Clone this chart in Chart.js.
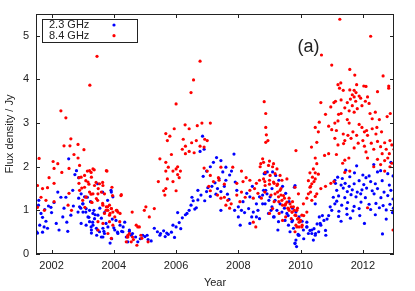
<!DOCTYPE html>
<html>
<head>
<meta charset="utf-8">
<script src="https://cdn.jsdelivr.net/npm/chart.js@4/dist/chart.umd.min.js"></script>
<style>
  body { margin: 0; background: #fff; }
  #wrap { width: 415px; height: 291px; }
</style>
</head>
<body>
<div id="wrap"><canvas id="fluxChart" width="415" height="291"></canvas></div>
<script>
// series names
const seriesNames = ["2.3 GHz", "8.4 GHz"];
const panelLabel = "(a)";

// axis ticks
const xTicks = [2002, 2004, 2006, 2008, 2010, 2012];
const yTicks = [0, 1, 2, 3, 4, 5];

// 2.3 GHz flux density [year, Jy]
const obs23 = [
  [2001.52,0.51],[2001.55,0.48],[2001.58,1.12],[2001.59,1.23],[2001.62,0.66],[2001.66,0.93],[2001.71,0.84],
  [2001.71,0.50],[2001.76,0.62],[2001.78,1.02],[2001.82,0.75],[2001.87,0.59],[2001.9,1.10],[2001.98,1.07],
  [2002.0,0.95],[2002.08,1.18],[2002.15,0.70],[2002.2,1.42],[2002.24,0.55],[2002.3,1.30],[2002.36,0.85],
  [2002.4,1.05],[2002.46,1.30],[2002.49,0.73],[2002.52,0.52],[2002.55,2.18],[2002.62,0.89],[2002.68,1.46],
  [2002.7,1.10],[2002.75,1.82],[2002.8,1.91],[2002.87,1.75],[2002.87,1.28],[2002.94,1.05],[2003.0,1.15],
  [2003.1,0.96],[2003.15,1.30],[2003.2,0.84],[2003.25,1.20],[2003.27,0.62],[2003.28,0.48],[2003.32,0.73],
  [2003.36,1.00],[2003.4,0.90],[2003.45,0.43],[2003.48,1.61],[2003.48,0.55],[2003.55,1.05],[2003.6,0.82],
  [2003.64,1.42],[2003.65,0.39],[2003.68,0.52],[2003.7,0.95],[2003.75,0.70],[2003.8,1.23],[2003.81,0.62],
  [2003.88,0.25],[2003.91,1.46],[2003.93,0.35],[2003.95,0.80],[2004.0,0.60],[2004.07,0.77],[2004.12,0.50],
  [2004.2,0.66],[2004.25,0.52],[2004.3,0.62],[2004.35,0.73],[2004.4,0.39],[2004.5,0.52],[2004.6,0.47],
  [2004.7,0.39],[2004.77,0.28],[2004.85,0.35],[2004.93,0.43],[2005.0,0.40],[2005.07,0.43],[2005.1,0.33],
  [2005.2,0.30],[2005.3,0.59],[2005.4,0.51],[2005.48,0.43],[2005.5,0.47],[2005.6,0.53],[2005.65,0.40],
  [2005.7,0.48],[2005.75,0.45],[2005.85,0.50],[2005.9,0.66],[2005.95,0.38],[2006.0,0.62],[2006.05,0.95],
  [2006.1,0.72],[2006.15,0.58],[2006.2,0.83],[2006.3,0.90],[2006.35,0.93],[2006.42,1.00],[2006.48,1.12],
  [2006.51,1.30],[2006.55,1.22],[2006.6,1.03],[2006.65,1.06],[2006.7,1.24],[2006.7,1.46],[2006.77,2.35],
  [2006.8,1.35],[2006.85,2.70],[2006.87,1.78],[2006.9,2.40],[2006.92,1.22],[2006.98,1.43],[2006.98,1.90],
  [2007.02,1.52],[2007.1,1.32],[2007.1,2.00],[2007.15,1.55],[2007.2,2.10],[2007.25,1.63],[2007.28,1.37],
  [2007.3,2.21],[2007.33,1.50],[2007.38,1.73],[2007.44,2.14],[2007.44,1.43],[2007.44,1.00],[2007.5,1.88],
  [2007.6,1.99],[2007.6,1.69],[2007.65,1.37],[2007.72,1.81],[2007.78,1.90],[2007.86,2.29],[2007.88,1.00],
  [2007.95,1.46],[2008.0,1.08],[2008.0,0.85],[2008.06,0.66],[2008.1,1.00],[2008.27,1.39],[2008.33,1.04],
  [2008.37,1.31],[2008.37,0.70],[2008.43,0.85],[2008.48,0.96],[2008.58,0.85],[2008.58,1.15],[2008.63,1.00],
  [2008.68,1.31],[2008.68,0.81],[2008.78,1.35],[2008.78,1.15],[2008.83,1.84],[2008.88,1.46],[2008.93,1.88],
  [2008.98,1.23],[2009.05,1.00],[2009.1,1.88],[2009.15,0.85],[2009.2,1.80],[2009.27,0.55],[2009.3,1.69],
  [2009.42,1.55],[2009.48,1.05],[2009.52,1.39],[2009.6,0.88],[2009.63,1.20],[2009.74,1.05],[2009.74,0.77],
  [2009.8,1.53],[2009.82,0.25],[2009.85,0.96],[2009.85,0.32],[2009.87,0.17],[2009.92,0.45],[2009.95,0.85],
  [2009.95,0.43],[2010.05,0.75],[2010.1,0.35],[2010.2,0.62],[2010.2,0.73],[2010.3,0.54],[2010.36,0.47],
  [2010.43,0.58],[2010.48,0.47],[2010.53,0.69],[2010.6,0.85],[2010.65,0.66],[2010.7,0.88],[2010.75,0.77],
  [2010.8,0.54],[2010.81,0.43],[2010.85,0.80],[2010.9,0.88],[2010.95,1.08],[2011.0,1.00],[2011.05,1.30],
  [2011.1,1.15],[2011.1,1.69],[2011.12,1.62],[2011.16,1.46],[2011.16,1.21],[2011.19,1.76],[2011.22,1.33],
  [2011.23,0.98],[2011.22,0.86],[2011.3,1.58],[2011.32,1.12],[2011.34,1.73],[2011.37,1.51],[2011.42,1.29],
  [2011.43,1.62],[2011.45,1.92],[2011.48,1.04],[2011.49,0.91],[2011.5,1.43],[2011.51,1.18],[2011.56,1.55],
  [2011.58,1.77],[2011.62,1.36],[2011.66,1.47],[2011.68,0.99],[2011.72,1.61],[2011.72,1.09],[2011.73,1.86],
  [2011.78,1.31],[2011.8,2.02],[2011.82,1.42],[2011.88,1.68],[2011.88,1.04],[2011.93,1.38],[2011.94,1.19],
  [2011.97,1.47],[2012.0,1.81],[2012.03,1.59],[2012.08,1.29],[2012.1,1.75],[2012.12,1.51],[2012.2,1.79],
  [2012.2,1.14],[2012.25,1.66],[2012.25,1.02],[2012.3,1.45],[2012.35,2.05],[2012.36,1.38],[2012.4,1.61],
  [2012.42,1.16],[2012.47,1.88],[2012.47,1.50],[2012.53,1.06],[2012.57,1.91],[2012.58,1.29],[2012.62,1.68],
  [2012.63,0.46],[2012.65,1.11],[2012.68,1.42],[2012.75,1.01],[2012.8,1.84],[2012.8,1.34],[2012.85,1.58],
  [2012.87,1.14],[2012.9,1.46],[2012.9,2.10],[2012.97,1.79],[2012.97,1.26],[2012.98,1.05],
  // dense clusters 2003-2004 and 2009-2010
  [2003.01,1.15],[2002.9,1.08],[2003.11,1.04],[2002.85,0.96],[2003.01,0.96],[2003.22,1.00],[2003.33,0.93],
  [2003.49,0.89],[2003.17,0.85],[2003.38,0.81],[2003.22,0.74],[2002.95,0.70],[2003.11,0.66],[2003.33,0.66],
  [2003.44,0.59],[2003.28,0.55],[2003.54,0.51],[2003.65,0.59],[2003.7,0.47],[2003.6,0.39],[2004.03,0.55],
  [2004.13,0.47],[2004.29,0.51],[2004.5,0.55],[2004.56,0.43],[2004.45,0.28],[2002.95,1.38],[2003.06,1.31],
  [2003.92,1.42],[2003.97,1.31],
  [2008.86,1.84],[2008.81,1.46],[2008.92,1.38],[2009.08,1.50],[2009.02,1.31],[2009.18,1.23],[2008.86,1.15],
  [2009.08,1.08],[2009.34,1.15],[2009.24,1.00],[2009.4,0.96],[2008.97,0.93],[2009.13,0.85],[2009.56,0.93],
  [2009.29,0.74],[2009.5,0.77],[2009.61,0.66],[2009.72,0.74],[2009.77,0.59],[2009.66,0.51],[2009.82,1.57],
  [2009.93,0.43],[2010.09,0.55],[2010.2,0.62],[2010.25,0.47],[2010.36,0.55],[2010.47,0.43],[2010.58,0.51],
  [2010.41,0.32],[2009.82,0.24],[2010.63,0.70],[2010.47,1.15],
  [2011.3,0.75],[2011.6,0.82],[2011.9,0.88],[2012.05,0.70],[2012.4,0.90],[2012.75,0.80],[2012.95,0.95],
  [2007.55,1.55],[2007.7,1.25],[2007.9,1.65],[2008.15,1.20],[2008.45,1.55],[2008.2,0.95]
];

// 8.4 GHz flux density [year, Jy]
const obs84 = [
  [2001.55,1.57],[2001.55,1.07],[2001.6,2.19],[2001.66,1.30],[2001.71,1.50],[2001.77,1.00],[2001.82,1.23],
  [2001.87,1.52],[2001.92,1.75],[2002.05,2.12],[2002.08,1.62],[2002.08,1.96],[2002.08,1.20],[2002.2,2.07],
  [2002.3,3.28],[2002.33,1.87],[2002.4,2.48],[2002.46,3.12],[2002.53,1.12],[2002.56,1.39],[2002.56,1.96],
  [2002.59,2.48],[2002.62,2.64],[2002.64,1.00],[2002.72,2.28],[2002.85,2.51],[2002.85,2.20],[2002.88,1.75],
  [2002.88,1.62],[2002.97,1.51],[2003.0,1.23],[2003.04,2.39],[2003.07,1.07],[2003.1,1.68],[2003.1,1.30],
  [2003.15,1.90],[2003.2,1.60],[2003.23,3.87],[2003.27,1.87],[2003.27,1.37],[2003.3,1.18],[2003.37,1.93],
  [2003.46,4.53],[2003.43,1.64],[2003.48,1.23],[2003.5,1.50],[2003.64,1.64],[2003.64,1.16],[2003.75,1.00],
  [2003.78,1.90],[2003.8,1.08],[2003.88,0.93],[2003.92,1.04],[2003.94,1.53],[2003.96,1.34],[2004.1,1.00],
  [2004.2,0.93],[2004.23,1.34],[2004.43,0.39],[2004.45,0.43],[2004.5,0.47],[2004.6,0.39],[2004.63,0.33],
  [2004.59,0.96],[2004.72,0.66],[2004.74,0.20],[2004.77,0.62],[2004.82,0.62],[2004.87,0.43],[2004.9,0.36],
  [2004.98,1.00],[2005.03,1.08],[2005.1,0.28],[2005.14,0.85],[2005.3,1.04],[2005.43,1.66],[2005.48,2.18],
  [2005.6,1.45],[2005.64,1.35],[2005.67,2.76],[2005.67,2.10],[2005.67,1.90],[2005.67,1.50],[2005.72,2.60],
  [2005.72,1.72],[2005.75,1.99],[2005.8,2.70],[2005.85,2.28],[2005.9,1.90],[2005.9,1.66],[2005.94,2.87],
  [2006.0,3.44],[2006.0,1.95],[2006.0,1.45],[2006.05,2.00],[2006.05,1.82],[2006.1,1.75],[2006.14,1.90],
  [2006.2,2.40],[2006.23,2.63],[2006.29,2.96],[2006.3,2.47],[2006.3,2.30],[2006.42,2.87],[2006.42,2.35],
  [2006.48,3.70],[2006.5,2.55],[2006.56,3.99],[2006.58,2.32],[2006.65,2.60],[2006.68,2.94],[2006.77,4.42],
  [2006.77,2.47],[2006.83,3.00],[2006.9,2.45],[2006.9,1.97],[2006.92,2.63],[2007.0,2.60],[2007.0,1.90],
  [2007.05,1.55],[2007.1,3.00],[2007.1,1.80],[2007.1,1.45],[2007.2,1.66],[2007.33,1.35],[2007.36,1.75],
  [2007.38,1.69],[2007.44,1.99],[2007.44,1.28],[2007.55,1.60],[2007.55,1.30],[2007.6,1.12],[2007.66,1.23],
  [2007.72,1.05],[2007.77,1.15],[2007.82,1.99],[2007.95,1.62],[2007.95,1.35],[2008.05,1.20],[2008.1,1.90],
  [2008.1,1.42],[2008.15,1.66],[2008.22,1.30],[2008.25,1.75],[2008.37,1.69],[2008.37,1.46],[2008.48,1.28],
  [2008.48,0.73],[2008.52,1.50],[2008.56,0.62],[2008.58,1.62],[2008.63,1.39],[2008.68,1.69],[2008.7,2.00],
  [2008.72,2.07],[2008.74,1.28],[2008.78,2.18],[2008.83,3.49],[2008.85,1.66],[2008.85,1.42],[2008.88,3.22],
  [2008.88,2.90],[2008.88,2.56],[2008.9,2.73],[2008.95,2.60],[2009.0,2.13],[2009.0,1.60],[2009.0,0.93],
  [2009.05,1.35],[2009.1,2.00],[2009.1,1.04],[2009.15,1.62],[2009.15,1.20],[2009.26,1.60],[2009.26,1.42],
  [2009.3,1.20],[2009.31,0.93],[2009.37,1.50],[2009.37,1.35],[2009.42,1.12],[2009.42,0.77],[2009.48,1.28],
  [2009.52,1.15],[2009.52,0.85],[2009.59,1.05],[2009.63,1.28],[2009.63,1.00],[2009.7,1.08],[2009.7,0.81],
  [2009.73,0.96],[2009.74,1.20],[2009.8,1.00],[2009.85,2.37],[2009.85,0.88],[2009.85,0.66],[2009.9,1.05],
  [2009.9,0.80],[2009.95,0.73],[2009.95,0.62],[2010.0,0.77],[2010.05,0.66],[2010.1,0.88],[2010.2,1.28],
  [2010.2,0.96],[2010.25,1.68],[2010.3,1.86],[2010.32,1.55],[2010.32,1.42],[2010.35,2.45],[2010.38,1.76],
  [2010.43,1.66],[2010.47,2.90],[2010.47,2.20],[2010.47,1.86],[2010.47,1.32],[2010.52,2.56],[2010.57,2.80],
  [2010.57,1.83],[2010.6,3.02],[2010.65,3.47],[2010.65,1.50],[2010.67,4.56],[2010.77,2.26],[2010.8,3.20],
  [2010.8,1.55],[2010.9,2.93],[2010.9,2.30],[2010.97,3.37],[2010.97,1.62],[2011.0,4.33],[2011.0,2.85],
  [2011.07,3.47],[2011.07,1.66],[2011.1,3.00],[2011.1,2.65],[2011.12,3.50],[2011.15,2.83],[2011.15,2.28],
  [2011.2,3.88],[2011.2,3.05],[2011.2,2.50],[2011.22,3.20],[2011.25,3.80],[2011.26,5.38],[2011.29,3.92],
  [2011.3,3.53],[2011.3,3.22],[2011.35,2.08],[2011.37,3.75],[2011.37,2.75],[2011.38,2.53],[2011.42,3.35],
  [2011.42,2.60],[2011.42,2.15],[2011.42,1.87],[2011.5,3.47],[2011.5,3.08],[2011.52,2.72],[2011.55,2.20],
  [2011.56,3.28],[2011.56,3.00],[2011.58,3.76],[2011.58,4.23],[2011.58,1.90],[2011.6,3.55],[2011.62,2.65],
  [2011.66,3.65],[2011.66,3.40],[2011.68,2.80],[2011.72,3.75],[2011.72,3.60],[2011.72,3.25],[2011.72,2.43],
  [2011.74,4.10],[2011.77,3.50],[2011.78,3.70],[2011.8,3.88],[2011.8,2.72],[2011.82,3.33],[2011.85,2.54],
  [2011.88,3.62],[2011.88,2.97],[2011.93,3.57],[2011.97,3.40],[2011.97,2.90],[2012.0,2.60],[2012.03,3.85],
  [2012.05,2.80],[2012.05,2.47],[2012.08,3.50],[2012.1,3.84],[2012.1,2.34],[2012.12,2.83],[2012.15,3.60],
  [2012.15,2.72],[2012.15,2.20],[2012.15,1.06],[2012.2,3.45],[2012.23,3.22],[2012.25,4.99],[2012.27,2.54],
  [2012.3,3.10],[2012.3,2.87],[2012.35,2.40],[2012.35,2.00],[2012.4,3.25],[2012.42,2.75],[2012.45,2.90],
  [2012.47,3.72],[2012.47,2.58],[2012.47,2.17],[2012.53,3.08],[2012.57,2.46],[2012.57,2.05],[2012.6,2.80],
  [2012.62,2.30],[2012.65,4.08],[2012.7,2.55],[2012.7,2.14],[2012.7,1.90],[2012.75,2.40],[2012.78,3.15],
  [2012.8,2.20],[2012.83,3.85],[2012.83,3.80],[2012.85,2.30],[2012.87,2.60],[2012.87,2.00],[2012.88,3.22],
  [2012.93,2.50],[2012.93,2.08],[2012.97,0.55],[2013.0,2.40],
  // dense clusters 2003-2004 and 2009-2010
  [2002.90,2.03],[2003.06,1.80],[2003.33,1.95],[2003.22,1.91],[2003.76,1.91],[2002.95,1.76],[2003.28,1.76],
  [2003.17,1.65],[2003.38,1.57],[2003.54,1.61],[2003.65,1.57],[2003.06,1.53],[2002.9,1.46],[2003.22,1.42],
  [2003.33,1.38],[2003.49,1.38],[2003.6,1.42],[2003.7,1.38],[2003.11,1.31],[2003.44,1.27],[2003.28,1.19],
  [2004.24,1.36],[2003.65,1.12],[2003.76,1.08],[2003.86,1.12],[2003.81,1.00],[2003.92,1.04],[2003.97,0.96],
  [2004.08,1.00],[2004.13,0.96],[2003.7,0.93],[2003.86,0.89],[2004.03,0.85],[2003.49,0.74],[2003.65,0.70],
  [2003.86,0.74],[2003.97,0.66],[2004.19,0.74],[2003.49,0.55],[2003.81,0.47],[2003.92,0.36],[2004.45,0.39],
  [2004.56,0.28],[2004.4,0.28],
  [2008.81,2.10],[2008.97,2.03],[2009.13,2.07],[2009.24,1.95],[2008.86,1.87],[2009.02,1.80],[2009.18,1.84],
  [2009.34,1.80],[2008.81,1.72],[2009.0,1.69],[2009.13,1.65],[2009.4,1.69],[2009.56,1.72],[2008.86,1.57],
  [2009.24,1.57],[2009.34,1.46],[2009.18,1.38],[2009.29,1.31],[2009.45,1.34],[2009.4,1.23],[2009.56,1.19],
  [2009.5,1.12],[2009.66,1.15],[2009.61,1.04],[2009.77,1.08],[2009.72,0.96],[2009.88,1.00],[2009.82,0.89],
  [2009.93,0.81],[2010.04,0.89],[2009.98,0.74],[2009.88,0.62],[2010.04,0.62],[2009.82,0.51],[2010.09,1.15],
  [2009.93,1.38],[2009.82,1.53],[2010.25,1.38],[2010.36,1.61],[2010.52,1.38],[2010.47,1.72],[2010.3,1.53],
  [2010.41,1.95],[2010.52,2.07],[2010.36,1.23]
];

const toPoints = rows => rows.map(r => ({ x: r[0], y: r[1] }));

// box with inward tick marks on all four sides, gnuplot style
const framePlugin = {
  id: "frame",
  afterDatasetsDraw(chart) {
    const { ctx, chartArea: a, scales } = chart;
    const tl = 4;
    ctx.save();
    ctx.strokeStyle = "#222";
    ctx.lineWidth = 1;
    ctx.strokeRect(a.left + 0.5, a.top + 0.5, a.right - a.left - 1, a.bottom - a.top - 1);
    ctx.beginPath();
    xTicks.forEach(v => {
      const px = Math.round(scales.x.getPixelForValue(v)) + 0.5;
      ctx.moveTo(px, a.bottom); ctx.lineTo(px, a.bottom - tl);
      ctx.moveTo(px, a.top); ctx.lineTo(px, a.top + tl);
    });
    yTicks.forEach(v => {
      const py = Math.round(scales.y.getPixelForValue(v)) + 0.5;
      ctx.moveTo(a.left, py); ctx.lineTo(a.left + tl, py);
      ctx.moveTo(a.right, py); ctx.lineTo(a.right - tl, py);
    });
    ctx.stroke();

    // key box top left
    const bx = a.left + 6, by = a.top + 5, bw = 95, bh = 23;
    ctx.fillStyle = "#fff";
    ctx.fillRect(bx, by, bw, bh);
    ctx.strokeRect(bx + 0.5, by + 0.5, bw, bh);
    ctx.font = "11px 'Liberation Sans', Arial, sans-serif";
    ctx.textBaseline = "middle";
    ctx.textAlign = "left";
    chart.data.datasets.forEach((ds, i) => {
      const ly = by + 6 + i * 10.7;
      ctx.fillStyle = "#222";
      ctx.fillText(ds.label, bx + 7, ly);
      ctx.fillStyle = ds.backgroundColor;
      ctx.beginPath();
      ctx.arc(bx + 72, ly, 1.6, 0, Math.PI * 2);
      ctx.fill();
    });

    // panel label
    ctx.fillStyle = "#222";
    ctx.font = "18px 'Liberation Sans', Arial, sans-serif";
    ctx.textAlign = "center";
    ctx.fillText(panelLabel, scales.x.getPixelForValue(2010.25), scales.y.getPixelForValue(4.75));
    ctx.restore();
  }
};

Chart.defaults.font.family = "'Liberation Sans', Arial, sans-serif";
Chart.defaults.font.size = 11;
Chart.defaults.color = "#222";

new Chart(document.getElementById("fluxChart"), {
  type: "scatter",
  data: {
    datasets: [
      {
        label: seriesNames[0],
        data: toPoints(obs23),
        backgroundColor: "#0000ff",
        pointRadius: 1.6,
        pointBorderWidth: 0,
        order: 2
      },
      {
        label: seriesNames[1],
        data: toPoints(obs84),
        backgroundColor: "#ff0000",
        pointRadius: 1.6,
        pointBorderWidth: 0,
        order: 1
      }
    ]
  },
  options: {
    responsive: false,
    animation: false,
    layout: { padding: { left: 0, right: 21, top: 14, bottom: 0 } },
    plugins: {
      legend: { display: false },
      tooltip: { enabled: false }
    },
    scales: {
      x: {
        type: "linear",
        min: 2001.5,
        max: 2013,
        grid: { display: false, drawTicks: false, tickLength: 0 },
        border: { display: false },
        afterBuildTicks: s => { s.ticks = xTicks.map(v => ({ value: v })); },
        afterFit: s => { s.height = 37; },
        ticks: { padding: 5, maxRotation: 0, callback: v => String(v) },
        title: { display: true, text: "Year", padding: { top: 0, bottom: 1 } }
      },
      y: {
        min: 0,
        max: 5.5,
        grid: { display: false, drawTicks: false, tickLength: 0 },
        border: { display: false },
        afterBuildTicks: s => { s.ticks = yTicks.map(v => ({ value: v })); },
        afterFit: s => { s.width = 36; },
        ticks: { padding: 7, callback: v => String(v) },
        title: { display: true, text: "Flux density / Jy", padding: { top: 3, bottom: 0 } }
      }
    }
  },
  plugins: [framePlugin]
});
</script>
</body>
</html>
